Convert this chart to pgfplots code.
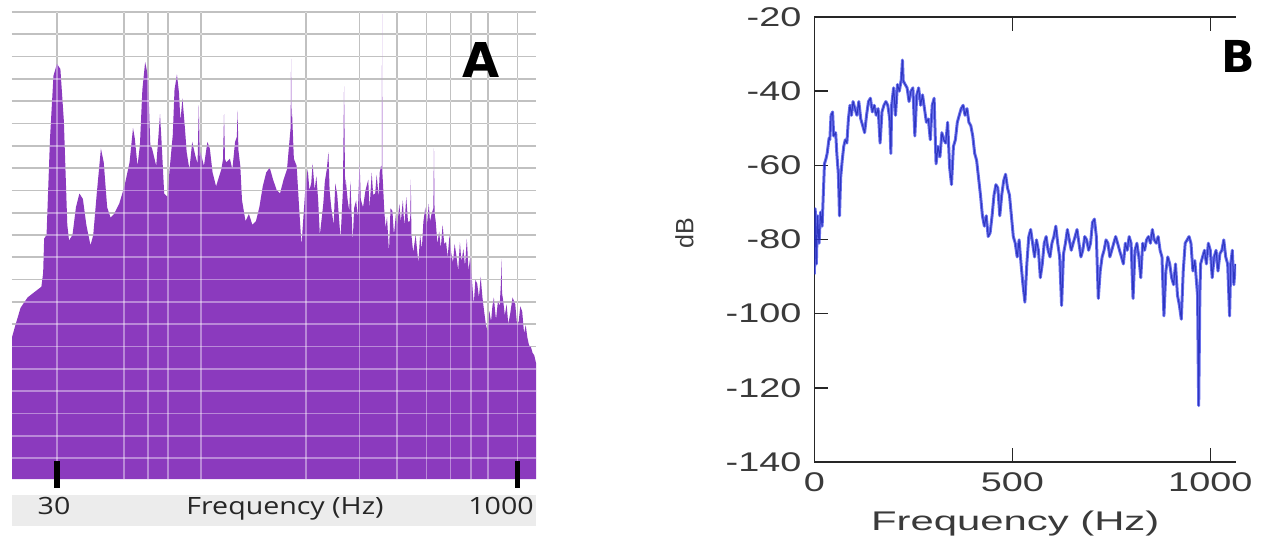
\documentclass[border=0pt]{standalone}
\usepackage{pgfplots}
\pgfplotsset{compat=1.18}
\usepackage{pgfplotstable}
\usepackage{fontspec}
\setmainfont{Liberation Sans}
\newfontfamily\bfont[FakeStretch=1.4]{Liberation Sans}
\newfontfamily\bxfont[FakeStretch=1.55]{Liberation Sans}
\newfontfamily\afont[FakeStretch=1.2]{Open Sans}
\newfontfamily\panelfont{DejaVu Sans}

\definecolor{apurple}{RGB}{139,58,190}
\definecolor{bblue}{RGB}{40,50,228}
\definecolor{bandgray}{RGB}{236,236,236}
\definecolor{labgray}{RGB}{58,58,58}

% panel A: spectrum, log frequency
\pgfplotstableread{
f db
21.31 -104.7
21.31 -72.9
21.87 -70.2
22.75 -66.3
23.99 -64.0
25.27 -62.8
26.65 -61.6
27.01 -58.5
27.22 -50.8
27.72 -50.0
28.46 -28.3
29.22 -14.3
30.00 -11.6
30.80 -12.8
31.62 -24.4
32.46 -47.7
32.89 -51.2
33.77 -50.0
34.67 -43.8
35.60 -40.7
36.55 -41.9
37.52 -47.7
38.73 -52.3
39.56 -50.0
40.62 -40.7
41.93 -30.6
42.83 -33.7
43.97 -43.8
45.11 -46.1
46.33 -45.3
48.19 -43.0
50.13 -39.1
52.14 -33.7
53.53 -26.0
54.25 -28.3
55.40 -34.5
56.42 -29.8
57.48 -17.4
58.71 -11.2
59.96 -14.3
61.07 -29.8
61.88 -30.6
63.87 -34.5
64.88 -28.3
65.74 -22.9
66.61 -29.8
67.86 -40.7
69.66 -41.5
70.58 -36.0
72.45 -27.5
73.42 -17.4
74.79 -14.0
75.98 -18.2
76.78 -24.4
78.01 -19.4
79.47 -26.0
80.52 -31.4
82.23 -35.3
83.99 -29.1
86.01 -32.2
87.50 -34.0
88.30 -20.9
89.00 -33.0
89.47 -31.4
91.84 -34.5
94.29 -29.1
96.04 -30.6
98.08 -36.0
100.7 -39.1
104.8 -35.3
106.2 -33.0
107.0 -22.9
107.8 -33.0
109.0 -33.7
111.9 -32.9
114.0 -35.3
116.4 -29.1
118.0 -28.0
118.6 -22.1
119.4 -31.0
121.1 -34.5
122.7 -42.2
126.0 -46.9
129.3 -45.3
132.8 -47.7
136.4 -46.9
140.0 -43.8
143.7 -39.1
147.5 -36.0
151.5 -34.9
155.5 -37.6
159.7 -39.9
163.9 -40.7
168.3 -37.6
172.8 -35.3
176.4 -28.3
177.6 -26.0
178.3 -10.5
179.0 -25.0
179.7 -22.9
182.1 -32.9
186.0 -34.5
189.5 -43.8
193.0 -52.3
196.1 -45.3
199.7 -37.6
202.4 -35.3
205.0 -40.0
207.8 -38.4
210.0 -34.0
213.3 -39.9
216.1 -36.8
219.0 -42.0
221.9 -50.0
227.8 -43.0
230.5 -38.0
233.9 -35.3
236.9 -31.4
239.0 -40.0
242.0 -43.8
246.5 -47.7
249.5 -38.5
253.1 -40.7
259.8 -50.8
264.5 -40.0
266.8 -16.7
269.0 -40.0
270.3 -37.6
274.0 -42.0
277.5 -44.6
280.0 -38.0
284.9 -51.6
288.0 -44.0
292.5 -42.2
296.0 -46.0
300.3 -33.7
303.0 -42.0
308.3 -43.8
314.0 -40.0
320.7 -37.6
324.0 -44.0
329.3 -36.0
333.0 -41.0
338.1 -40.7
342.0 -36.5
347.1 -41.5
350.0 -36.0
353.6 -34.5
355.6 -35.0
356.4 -0.4
357.2 -36.0
359.2 -39.1
362.0 -44.0
365.9 -48.4
370.0 -46.0
375.6 -53.9
380.0 -44.0
385.6 -44.6
390.0 -50.0
395.9 -45.3
400.0 -48.0
406.4 -43.0
411.0 -47.0
417.3 -42.2
422.0 -48.0
428.4 -41.5
434.0 -47.0
439.9 -46.9
441.5 -46.0
443.5 -37.6
445.5 -50.0
451.6 -53.9
460.0 -50.0
469.7 -56.2
476.0 -50.0
482.3 -53.1
488.0 -47.0
495.2 -43.8
501.0 -48.0
508.4 -43.0
513.0 -47.0
519.2 -45.3
526.5 -44.0
528.9 -30.6
531.3 -45.0
535.9 -46.9
543.0 -52.0
550.2 -49.2
557.0 -53.0
564.9 -47.7
572.0 -52.0
580.0 -51.6
587.0 -55.0
595.4 -50.0
603.0 -54.0
611.3 -56.2
619.0 -52.0
627.6 -54.7
636.0 -58.0
644.4 -51.6
652.0 -56.0
661.6 -53.1
670.0 -57.0
679.2 -50.8
688.0 -58.0
697.4 -54.7
706.0 -60.0
716.0 -65.5
725.0 -60.0
735.1 -60.9
745.0 -64.0
754.7 -59.3
765.0 -64.0
774.9 -67.1
785.0 -70.0
795.6 -71.7
806.0 -67.0
816.8 -69.4
825.0 -66.0
834.3 -64.0
848.0 -69.0
860.9 -64.7
872.0 -66.0
880.0 -61.0
884.0 -55.4
888.0 -63.0
895.7 -64.7
907.0 -68.0
919.5 -65.5
931.0 -70.0
944.0 -67.8
962.0 -64.0
981.9 -65.5
995.0 -70.0
1008 -69.4
1020 -66.0
1035 -67.1
1050 -72.0
1063 -70.2
1077 -73.0
1091 -74.8
1105 -75.0
1120 -76.4
1135 -77.0
1150 -78.7
1150 -104.7
}\specA

% panel B: spectrum, linear frequency
\pgfplotstableread{
f db
0 -89.4
2.0 -71.7
4.9 -86.6
7.8 -73.6
11.7 -81.0
15.6 -72.6
19.5 -76.4
22.4 -68.0
25.4 -59.6
29.3 -58.2
32.2 -56.8
37.1 -52.6
39.0 -53.1
42.0 -46.5
45.9 -45.6
48.8 -52.1
53.7 -51.2
56.6 -56.8
60.5 -62.4
63.4 -73.6
66.3 -63.3
70.2 -58.7
74.1 -54.9
78.0 -53.1
82.0 -54.0
85.9 -47.5
89.8 -43.8
93.7 -46.5
97.6 -42.8
102.4 -44.7
107.3 -46.5
112.2 -42.8
117.1 -47.5
122.0 -49.3
126.8 -51.2
131.7 -46.5
136.6 -42.8
141.5 -41.9
146.3 -45.6
151.2 -43.8
156.1 -46.5
161.0 -44.7
165.9 -54.0
170.7 -45.6
175.6 -43.8
180.5 -42.8
185.4 -43.8
190.2 -47.5
193.2 -56.8
195.1 -43.8
200.0 -39.1
204.9 -46.5
209.8 -38.2
214.6 -40.0
219.5 -36.8
222.4 -31.6
224.4 -37.2
229.3 -38.2
234.1 -39.1
239.0 -42.8
243.9 -40.0
248.8 -39.1
253.7 -52.1
258.5 -41.0
263.4 -39.1
268.3 -43.8
273.2 -41.0
278.0 -44.7
282.9 -48.4
287.8 -47.5
292.7 -53.1
297.6 -43.8
302.4 -41.9
307.3 -59.6
312.2 -54.9
317.1 -57.7
322.0 -51.2
326.8 -53.1
331.7 -54.0
336.6 -48.4
341.5 -60.5
346.3 -65.2
351.2 -54.9
356.1 -53.1
361.0 -48.4
365.9 -46.5
370.7 -44.7
375.6 -43.8
380.5 -46.5
385.4 -44.7
390.2 -48.4
395.1 -49.3
400.0 -52.1
404.9 -56.8
409.8 -58.7
414.6 -63.3
419.5 -68.0
424.4 -73.6
429.3 -76.4
434.1 -73.6
439.0 -79.2
443.9 -78.2
448.8 -73.6
453.7 -68.0
458.5 -65.2
463.4 -66.1
468.3 -73.6
473.2 -68.0
478.0 -64.2
482.9 -62.4
487.8 -66.1
492.7 -68.0
497.6 -73.6
502.4 -79.2
507.3 -81.0
512.2 -84.7
517.1 -80.1
522.0 -86.6
526.8 -92.2
531.7 -96.9
536.6 -86.6
541.5 -79.2
546.3 -77.3
551.2 -81.0
556.1 -84.7
561.0 -80.1
565.9 -82.9
570.7 -90.3
575.6 -86.6
580.5 -81.0
585.4 -79.2
590.2 -82.9
595.1 -84.7
600.0 -81.0
604.9 -79.2
609.8 -76.4
614.6 -81.0
619.5 -84.7
624.4 -97.8
629.3 -83.8
634.1 -81.0
639.0 -77.3
643.9 -80.1
648.8 -82.9
653.7 -81.0
658.5 -79.2
663.4 -77.3
668.3 -81.0
673.2 -84.7
678.0 -82.9
682.9 -79.2
687.8 -80.1
692.7 -82.9
697.6 -81.0
702.4 -75.4
707.3 -74.5
712.2 -79.2
717.1 -95.9
722.0 -88.5
726.8 -84.7
731.7 -82.9
736.6 -80.1
741.5 -81.0
746.3 -84.7
751.2 -82.9
756.1 -81.0
761.0 -79.2
765.9 -81.0
770.7 -82.9
775.6 -84.7
780.5 -86.6
785.4 -81.0
790.2 -82.9
795.1 -79.2
800.0 -81.0
804.9 -95.9
809.8 -82.9
814.6 -81.0
819.5 -84.7
824.4 -90.3
829.3 -81.0
834.1 -82.9
839.0 -80.1
843.9 -79.2
848.8 -81.0
853.7 -77.3
858.5 -80.1
863.4 -81.0
868.3 -79.2
873.2 -82.9
878.0 -84.7
882.9 -100.6
887.8 -88.5
892.7 -84.7
897.6 -86.6
902.4 -90.3
907.3 -92.2
912.2 -86.6
917.1 -95.0
922.0 -97.8
926.8 -101.5
931.7 -88.5
936.6 -81.0
941.5 -80.1
946.3 -79.2
951.2 -81.0
956.1 -88.5
961.0 -85.7
967.8 -95.0
970.7 -124.8
973.7 -95.0
975.6 -86.6
980.5 -84.7
985.4 -82.9
990.2 -86.6
995.1 -81.0
1000.0 -82.9
1004.9 -90.3
1009.8 -84.7
1014.6 -82.9
1019.5 -88.5
1024.4 -83.8
1029.3 -82.9
1034.1 -80.1
1039.0 -84.7
1043.9 -86.6
1048.8 -100.6
1051.7 -86.6
1055.6 -82.9
1059.5 -92.2
1063.4 -86.6
}\specB

% grid positions of panel A, as log10 of 30,50,60,70,90,200,...,800,1000 Hz
\pgfplotsset{
  agrid/.style={
    at={(6pt,34pt)}, anchor=south west, scale only axis,
    width=262pt, height=233.5pt,
    xmin=1.3286, xmax=3.0607, ymin=-104.7, ymax=0,
    xtick={1.4771,1.6990,1.7782,1.8451,1.9542,2.3010,2.4771,2.6021,2.6990,2.7782,2.8451,2.9031,3},
    ytick={-100,-95,...,0},
    xticklabels={}, yticklabels={}, major tick length=0pt,
    grid=major, axis line style={draw=none},
  },
}

\begin{document}
\begin{tikzpicture}
\useasboundingbox (0,0) rectangle (631pt,273.5pt);

% ---- A ----
\begin{axis}[agrid, major grid style={black!40, line width=0.85pt}]
\addplot[draw=none] coordinates {(2,-50)};
\end{axis}
\begin{axis}[
  at={(6pt,34pt)}, anchor=south west, scale only axis,
  width=262pt, height=233.5pt,
  xmode=log, xmin=21.31, xmax=1150, ymin=-104.7, ymax=0,
  hide axis]
\addplot[fill=apurple, draw=none] table {\specA} -- cycle;
\end{axis}
\begin{axis}[agrid, major grid style={white, opacity=0.4, line width=0.85pt}, clip=false]
\addplot[draw=none] coordinates {(2,-50)};
\draw[black, line width=2.8pt] (axis cs:1.4771,-100.7) -- (axis cs:1.4771,-106.7);
\draw[black, line width=2.8pt] (axis cs:3,-100.7) -- (axis cs:3,-106.7);
\end{axis}

\fill[bandgray] (6pt,10.5pt) rectangle (268pt,26pt);
\begin{scope}[every node/.style={font=\afont\fontsize{11.9pt}{14pt}\selectfont, text=black!85, anchor=base, inner sep=0pt}]
\node at (27pt,16.5pt) {30};
\node at (142.5pt,16.5pt) {Frequency (Hz)};
\node at (250.5pt,16.5pt) {1000};
\end{scope}
\node[font=\panelfont\bfseries\fontsize{24pt}{28pt}\selectfont] at (240.5pt,243.5pt) {A};

% ---- B ----
\begin{axis}[
  at={(407.2pt,42.5pt)}, anchor=south west, scale only axis,
  width=210.8pt, height=222.5pt,
  xmin=0, xmax=1065, ymin=-140, ymax=-20,
  axis x line=box, axis y line=left,
  axis line style={-, black!85, line width=0.8pt},
  every outer y axis line/.append style={-},
  every outer x axis line/.append style={-},
  tick align=inside, major tick length=7pt,
  tick style={black!85, line width=0.7pt},
  xtick={0,500,1000}, xticklabels={0,500,1000},
  ytick={-140,-120,...,-20},
  yticklabels={-140,-120,-100,-80,-60,-40,-20},
  ticklabel style={font=\bfont\fontsize{13.5pt}{16pt}\selectfont, text=labgray},
  yticklabel style={xshift=-3pt},
  xticklabel style={yshift=-2pt},
  xlabel={Frequency (Hz)},
  xlabel style={font=\bxfont\fontsize{13.5pt}{16pt}\selectfont, text=labgray,
    at={(axis description cs:0.4763,-0.1528)}, anchor=base},
  ylabel={dB},
  ylabel style={font=\fontsize{12.5pt}{15pt}\selectfont, text=labgray,
    at={(axis description cs:-0.3084,0.5135)}, anchor=center},
]
\addplot[color=bblue, line width=1.5pt, opacity=0.7, line join=round] table {\specB};
\addplot[color=bblue!80!black, line width=0.5pt, opacity=0.8, line join=round] table {\specB};
\end{axis}
\node[font=\panelfont\bfseries\fontsize{22pt}{26pt}\selectfont] at (619pt,245.5pt) {B};

\end{tikzpicture}
\end{document}
